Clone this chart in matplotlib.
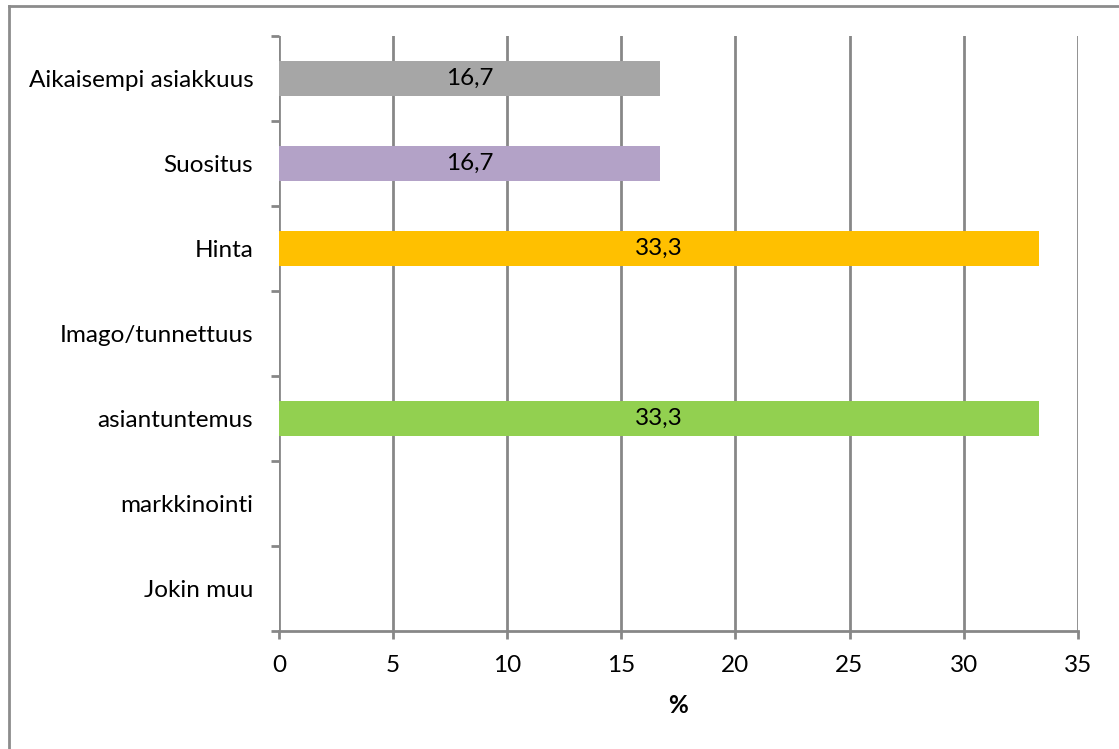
import matplotlib.pyplot as plt
from matplotlib.lines import Line2D

categories = ["Jokin muu", "markkinointi", "asiantuntemus", "Imago/tunnettuus",
              "Hinta", "Suositus", "Aikaisempi asiakkuus"]
values = [0, 0, 33.3, 0, 33.3, 16.7, 16.7]
colors = ["#4F81BD", "#C0504D", "#92D050", "#4BACC6", "#FFC000", "#B3A2C7", "#A6A6A6"]
xticks = [0, 5, 10, 15, 20, 25, 30, 35]

plt.rcParams['font.family'] = ['Lato', 'DejaVu Sans']
W, H = 1119, 749
fig = plt.figure(figsize=(W / 100, H / 100), dpi=100)
ax = fig.add_axes([279 / W, 1 - 631 / H, (1077.7 - 279) / W, (631 - 36) / H])

fs = 17.5
grid = "#878787"
ypos = list(range(len(categories)))
bars = ax.barh(ypos, values, height=0.41, color=colors, zorder=3)
for b, v in zip(bars, values):
    if v > 0:
        ax.text(v / 2, b.get_y() + b.get_height() / 2, f"{v:.1f}".replace(".", ","),
                ha="center", va="center", fontsize=fs, color="black", zorder=4)

ax.set_xlim(0, 35)
ax.set_ylim(-0.5, len(categories) - 0.5)
ax.set_xticks(xticks)
ax.set_xticklabels([str(t) for t in xticks], fontsize=fs)
ax.xaxis.grid(True, color=grid, linewidth=2, zorder=0)
ax.set_yticks(ypos)
ax.set_yticklabels(categories, fontsize=fs)
ax.tick_params(axis="y", length=0, pad=18.5)
ax.tick_params(axis="x", length=5.8, width=2, color=grid, pad=11.5)
# category separator ticks on the value axis
ax.set_yticks([i - 0.5 for i in range(len(categories) + 1)], minor=True)
ax.tick_params(axis="y", which="minor", length=5.8, width=2, color=grid)
for s in ["top", "right", "left"]:
    ax.spines[s].set_visible(False)
ax.spines["bottom"].set_color(grid)
ax.spines["bottom"].set_linewidth(2)
ax.set_xlabel("%", fontsize=fs, fontweight="bold", labelpad=13)

# outer chart border (left and top edges)
fig.add_artist(Line2D([8.5 / W, 8.5 / W], [0, 1 - 6 / H], transform=fig.transFigure,
                      color="#8C8C8C", linewidth=2))
fig.add_artist(Line2D([8.5 / W, 1], [1 - 6 / H, 1 - 6 / H], transform=fig.transFigure,
                      color="#8C8C8C", linewidth=2))

fig.savefig("out.png", dpi=100)
